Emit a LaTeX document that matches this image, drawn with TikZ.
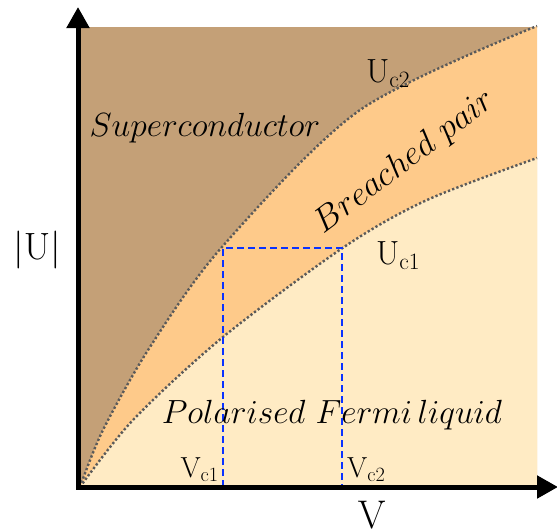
\RequirePackage{fix-cm}
\documentclass[tikz,border=0pt]{standalone}
\usepackage{tikz}
\usetikzlibrary{arrows.meta}
\definecolor{pdbrown}{HTML}{C4A077}
\definecolor{pdorange}{HTML}{FECA8A}
\definecolor{pdlight}{HTML}{FFEBC4}
\definecolor{pdgray}{HTML}{5A5A5A}
\definecolor{pdblue}{HTML}{0A32FF}

\begin{document}
\begin{tikzpicture}[
  x=1pt, y=-1pt,
  bound/.style={draw=pdgray, line width=2.4pt, dash pattern=on 2.3pt off 2.2pt},
  vbox/.style={draw=pdblue, line width=2.8pt, dash pattern=on 7pt off 4pt},
  axis/.style={line width=5pt, line join=miter,
               {Triangle[length=21pt,width=22pt]}-{Triangle[length=21pt,width=22pt]}},
  lbl/.style={font=\fontsize{33.5}{40}\selectfont, inner sep=0pt},
  sub/.style={font=\fontsize{29}{35}\selectfont, inner sep=0pt},
  big/.style={font=\fontsize{38}{44}\selectfont, inner sep=0pt},
]
  \useasboundingbox (0,0) rectangle (557,530);

  % phase regions
  \fill[pdbrown] (80,27) rectangle (537,487);
  \fill[pdorange] plot[smooth] coordinates {(80,487) (103,430) (150,347) (222,247) (360,110) (537,26)}
    -- (537,487) -- cycle;
  \fill[pdlight] plot[smooth] coordinates {(80,487) (133,420) (223,337) (344,247) (427,200) (537,158)}
    -- (537,487) -- cycle;

  % boundaries U_c2 and U_c1
  \draw[bound] plot[smooth] coordinates {(80,487) (103,430) (150,347) (222,247) (360,110) (537,26)};
  \draw[bound] plot[smooth] coordinates {(80,487) (133,420) (223,337) (344,247) (427,200) (537,158)};

  % window between V_c1 and V_c2
  \coordinate (v1) at (223,487);
  \coordinate (v2) at (342,487);
  \coordinate (c1) at (223,248);
  \coordinate (c2) at (342,248);
  \draw[vbox] (v1) -- (c1) -- (c2) -- (v2);

  % axes
  \coordinate (O) at (78,487);
  \coordinate (utip) at (78,7);
  \coordinate (vtip) at (558,487);
  \draw[axis] (utip) -- (O) -- (vtip);

  \node[lbl, anchor=base] (sc) at (205,136) {$Superconductor$};
  \node[lbl, anchor=base, rotate=37, font=\fontsize{34.5}{40}\selectfont] (bp) at (410,169) {$Breached\ pair$};
  \node[lbl, anchor=base] (fl) at (332,423) {$Polarised\ Fermi\,liquid$};
  \node[lbl, anchor=base west] (uc2) at (366,82) {$\mathrm{U_{c2}}$};
  \node[lbl, anchor=base west] (uc1) at (376,264) {$\mathrm{U_{c1}}$};
  \node[sub, anchor=base east] (vc1) at (219,477) {$\mathrm{V_{c1}}$};
  \node[sub, anchor=base west] (vc2) at (347,477) {$\mathrm{V_{c2}}$};
  \node[big, anchor=base, font=\fontsize{40}{46}\selectfont] (vlab) at (372,528) {$\mathrm{V}$};
  \node[big, anchor=base] (ulab) at (37,259) {$|\mathrm{U}|$};
\end{tikzpicture}
\end{document}
